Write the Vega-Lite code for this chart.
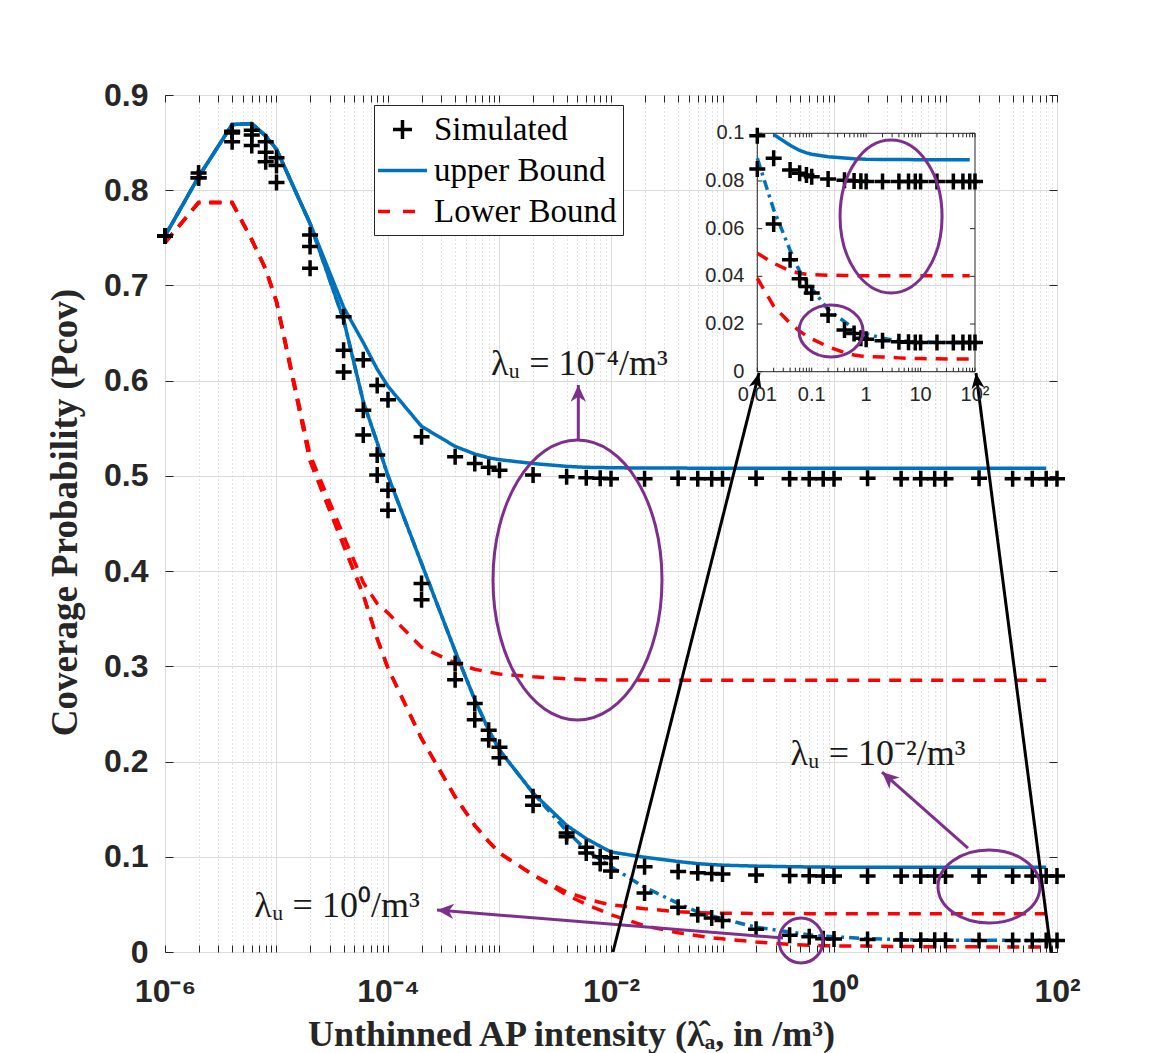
{
  "$schema": "https://vega.github.io/schema/vega-lite/v6.json",
  "width": 892,
  "height": 857,
  "autosize": {"type": "none"},
  "padding": {"left": 165, "top": 95, "right": 96, "bottom": 101},
  "background": "white",
  "config": {
    "view": {"stroke": "#262626", "strokeWidth": 1},
    "axis": {"tickColor": "#262626", "labelColor": "#262626", "titleColor": "#262626"}
  },
  "datasets": {
    "curves": [
      {"lam": "1e-4", "x": 1e-6, "sim": 0.752, "up": 0.752, "lo": 0.745},
      {"lam": "1e-4", "x": 2e-6, "sim": 0.818, "up": 0.814, "lo": 0.787},
      {"lam": "1e-4", "x": 4e-6, "sim": 0.862, "up": 0.869, "lo": 0.787},
      {"lam": "1e-4", "x": 6e-6, "sim": 0.863, "up": 0.870, "lo": 0.748},
      {"lam": "1e-4", "x": 8e-6, "sim": 0.851, "up": 0.857, "lo": 0.717},
      {"lam": "1e-4", "x": 1e-5, "sim": 0.834, "up": 0.843, "lo": 0.683},
      {"lam": "1e-4", "x": 2e-5, "sim": 0.753, "up": 0.765, "lo": 0.522},
      {"lam": "1e-4", "x": 4e-5, "sim": 0.667, "up": 0.677, "lo": 0.437},
      {"lam": "1e-4", "x": 6e-5, "sim": 0.622, "up": 0.640, "lo": 0.388},
      {"lam": "1e-4", "x": 8e-5, "sim": 0.595, "up": 0.612, "lo": 0.366},
      {"lam": "1e-4", "x": 1e-4, "sim": 0.580, "up": 0.594, "lo": 0.356},
      {"lam": "1e-4", "x": 2e-4, "sim": 0.541, "up": 0.552, "lo": 0.320},
      {"lam": "1e-4", "x": 4e-4, "sim": 0.520, "up": 0.531, "lo": 0.3035},
      {"lam": "1e-4", "x": 6e-4, "sim": 0.513, "up": 0.523, "lo": 0.297},
      {"lam": "1e-4", "x": 8e-4, "sim": 0.509, "up": 0.519, "lo": 0.294},
      {"lam": "1e-4", "x": 0.001, "sim": 0.506, "up": 0.517, "lo": 0.292},
      {"lam": "1e-4", "x": 0.002, "sim": 0.501, "up": 0.513, "lo": 0.289},
      {"lam": "1e-4", "x": 0.004, "sim": 0.499, "up": 0.510, "lo": 0.287},
      {"lam": "1e-4", "x": 0.006, "sim": 0.498, "up": 0.509, "lo": 0.286},
      {"lam": "1e-4", "x": 0.008, "sim": 0.4975, "up": 0.5088, "lo": 0.2858},
      {"lam": "1e-4", "x": 0.01, "sim": 0.497, "up": 0.5085, "lo": 0.2856},
      {"lam": "1e-4", "x": 0.02, "sim": 0.497, "up": 0.5083, "lo": 0.2855},
      {"lam": "1e-4", "x": 0.04, "sim": 0.4975, "up": 0.5082, "lo": 0.2855},
      {"lam": "1e-4", "x": 0.06, "sim": 0.497, "up": 0.5081, "lo": 0.2855},
      {"lam": "1e-4", "x": 0.08, "sim": 0.497, "up": 0.5081, "lo": 0.2855},
      {"lam": "1e-4", "x": 0.1, "sim": 0.497, "up": 0.508, "lo": 0.2855},
      {"lam": "1e-4", "x": 0.2, "sim": 0.4975, "up": 0.508, "lo": 0.2855},
      {"lam": "1e-4", "x": 0.4, "sim": 0.497, "up": 0.508, "lo": 0.2855},
      {"lam": "1e-4", "x": 0.6, "sim": 0.497, "up": 0.508, "lo": 0.2855},
      {"lam": "1e-4", "x": 0.8, "sim": 0.497, "up": 0.508, "lo": 0.2855},
      {"lam": "1e-4", "x": 1, "sim": 0.497, "up": 0.508, "lo": 0.2855},
      {"lam": "1e-4", "x": 2, "sim": 0.4975, "up": 0.508, "lo": 0.2855},
      {"lam": "1e-4", "x": 4, "sim": 0.497, "up": 0.508, "lo": 0.2855},
      {"lam": "1e-4", "x": 6, "sim": 0.497, "up": 0.508, "lo": 0.2855},
      {"lam": "1e-4", "x": 8, "sim": 0.497, "up": 0.508, "lo": 0.2855},
      {"lam": "1e-4", "x": 10, "sim": 0.497, "up": 0.508, "lo": 0.2855},
      {"lam": "1e-4", "x": 20, "sim": 0.4975, "up": 0.508, "lo": 0.2855},
      {"lam": "1e-4", "x": 40, "sim": 0.497, "up": 0.508, "lo": 0.2855},
      {"lam": "1e-4", "x": 60, "sim": 0.497, "up": 0.508, "lo": 0.2855},
      {"lam": "1e-4", "x": 80, "sim": 0.497, "up": 0.508, "lo": 0.2855},
      {"lam": "1e-4", "x": 100, "sim": 0.497, "up": null, "lo": null},

      {"lam": "1e-2", "x": 1e-6, "sim": 0.752, "up": 0.752, "lo": 0.745},
      {"lam": "1e-2", "x": 2e-6, "sim": 0.813, "up": 0.814, "lo": 0.787},
      {"lam": "1e-2", "x": 4e-6, "sim": 0.860, "up": 0.869, "lo": 0.787},
      {"lam": "1e-2", "x": 6e-6, "sim": 0.858, "up": 0.870, "lo": 0.748},
      {"lam": "1e-2", "x": 8e-6, "sim": 0.840, "up": 0.857, "lo": 0.717},
      {"lam": "1e-2", "x": 1e-5, "sim": 0.826, "up": 0.843, "lo": 0.683},
      {"lam": "1e-2", "x": 2e-5, "sim": 0.741, "up": 0.765, "lo": 0.516},
      {"lam": "1e-2", "x": 4e-5, "sim": 0.632, "up": 0.664, "lo": 0.427},
      {"lam": "1e-2", "x": 6e-5, "sim": 0.569, "up": 0.578, "lo": 0.375},
      {"lam": "1e-2", "x": 8e-5, "sim": 0.522, "up": 0.535, "lo": 0.329},
      {"lam": "1e-2", "x": 1e-4, "sim": 0.485, "up": 0.500, "lo": 0.298},
      {"lam": "1e-2", "x": 2e-4, "sim": 0.387, "up": 0.408, "lo": 0.224},
      {"lam": "1e-2", "x": 4e-4, "sim": 0.303, "up": 0.316, "lo": 0.163},
      {"lam": "1e-2", "x": 6e-4, "sim": 0.261, "up": 0.265, "lo": 0.133},
      {"lam": "1e-2", "x": 8e-4, "sim": 0.233, "up": 0.233, "lo": 0.116},
      {"lam": "1e-2", "x": 0.001, "sim": 0.215, "up": 0.212, "lo": 0.104},
      {"lam": "1e-2", "x": 0.002, "sim": 0.163, "up": 0.167, "lo": 0.081},
      {"lam": "1e-2", "x": 0.004, "sim": 0.125, "up": 0.133, "lo": 0.063},
      {"lam": "1e-2", "x": 0.006, "sim": 0.110, "up": 0.119, "lo": 0.056},
      {"lam": "1e-2", "x": 0.008, "sim": 0.100, "up": 0.111, "lo": 0.052},
      {"lam": "1e-2", "x": 0.01, "sim": 0.099, "up": 0.105, "lo": 0.0497},
      {"lam": "1e-2", "x": 0.02, "sim": 0.0895, "up": 0.0995, "lo": 0.0455},
      {"lam": "1e-2", "x": 0.04, "sim": 0.0846, "up": 0.0950, "lo": 0.0423},
      {"lam": "1e-2", "x": 0.06, "sim": 0.0832, "up": 0.0928, "lo": 0.0413},
      {"lam": "1e-2", "x": 0.08, "sim": 0.0825, "up": 0.0918, "lo": 0.0409},
      {"lam": "1e-2", "x": 0.1, "sim": 0.0818, "up": 0.0912, "lo": 0.0407},
      {"lam": "1e-2", "x": 0.2, "sim": 0.0808, "up": 0.0902, "lo": 0.0405},
      {"lam": "1e-2", "x": 0.4, "sim": 0.0803, "up": 0.0896, "lo": 0.0404},
      {"lam": "1e-2", "x": 0.6, "sim": 0.0800, "up": 0.0893, "lo": 0.0403},
      {"lam": "1e-2", "x": 0.8, "sim": 0.0799, "up": 0.0892, "lo": 0.0403},
      {"lam": "1e-2", "x": 1, "sim": 0.0798, "up": 0.0891, "lo": 0.0403},
      {"lam": "1e-2", "x": 2, "sim": 0.0798, "up": 0.0890, "lo": 0.0403},
      {"lam": "1e-2", "x": 4, "sim": 0.0798, "up": 0.0890, "lo": 0.0403},
      {"lam": "1e-2", "x": 6, "sim": 0.0798, "up": 0.0890, "lo": 0.0403},
      {"lam": "1e-2", "x": 8, "sim": 0.0798, "up": 0.0889, "lo": 0.0403},
      {"lam": "1e-2", "x": 10, "sim": 0.0798, "up": 0.0889, "lo": 0.0403},
      {"lam": "1e-2", "x": 20, "sim": 0.0798, "up": 0.0889, "lo": 0.0403},
      {"lam": "1e-2", "x": 40, "sim": 0.0798, "up": 0.0889, "lo": 0.0403},
      {"lam": "1e-2", "x": 60, "sim": 0.0798, "up": 0.0889, "lo": 0.0403},
      {"lam": "1e-2", "x": 80, "sim": 0.0798, "up": 0.0889, "lo": 0.0403},
      {"lam": "1e-2", "x": 100, "sim": 0.0798, "up": null, "lo": null},

      {"lam": "1e0", "x": 1e-6, "sim": 0.752, "up": 0.752, "lo": 0.745},
      {"lam": "1e0", "x": 2e-6, "sim": 0.813, "up": 0.814, "lo": 0.787},
      {"lam": "1e0", "x": 4e-6, "sim": 0.851, "up": 0.869, "lo": 0.787},
      {"lam": "1e0", "x": 6e-6, "sim": 0.847, "up": 0.870, "lo": 0.748},
      {"lam": "1e0", "x": 8e-6, "sim": 0.830, "up": 0.857, "lo": 0.717},
      {"lam": "1e0", "x": 1e-5, "sim": 0.808, "up": 0.843, "lo": 0.683},
      {"lam": "1e0", "x": 2e-5, "sim": 0.718, "up": 0.765, "lo": 0.516},
      {"lam": "1e0", "x": 4e-5, "sim": 0.609, "up": 0.664, "lo": 0.427},
      {"lam": "1e0", "x": 6e-5, "sim": 0.543, "up": 0.578, "lo": 0.375},
      {"lam": "1e0", "x": 8e-5, "sim": 0.501, "up": 0.535, "lo": 0.329},
      {"lam": "1e0", "x": 1e-4, "sim": 0.464, "up": 0.500, "lo": 0.298},
      {"lam": "1e0", "x": 2e-4, "sim": 0.370, "up": 0.408, "lo": 0.224},
      {"lam": "1e0", "x": 4e-4, "sim": 0.286, "up": 0.316, "lo": 0.163},
      {"lam": "1e0", "x": 6e-4, "sim": 0.244, "up": 0.265, "lo": 0.133},
      {"lam": "1e0", "x": 8e-4, "sim": 0.223, "up": 0.233, "lo": 0.116},
      {"lam": "1e0", "x": 0.001, "sim": 0.204, "up": 0.212, "lo": 0.104},
      {"lam": "1e0", "x": 0.002, "sim": 0.154, "up": 0.167, "lo": 0.081},
      {"lam": "1e0", "x": 0.004, "sim": 0.121, "up": 0.127, "lo": 0.060},
      {"lam": "1e0", "x": 0.006, "sim": 0.104, "up": 0.107, "lo": 0.050},
      {"lam": "1e0", "x": 0.008, "sim": 0.093, "up": 0.097, "lo": 0.044},
      {"lam": "1e0", "x": 0.01, "sim": 0.085, "up": 0.0895, "lo": 0.0392},
      {"lam": "1e0", "x": 0.02, "sim": 0.062, "up": 0.068, "lo": 0.0275},
      {"lam": "1e0", "x": 0.04, "sim": 0.047, "up": 0.051, "lo": 0.0203},
      {"lam": "1e0", "x": 0.06, "sim": 0.039, "up": 0.042, "lo": 0.017},
      {"lam": "1e0", "x": 0.08, "sim": 0.0357, "up": 0.038, "lo": 0.015},
      {"lam": "1e0", "x": 0.1, "sim": 0.033, "up": 0.035, "lo": 0.0138},
      {"lam": "1e0", "x": 0.2, "sim": 0.0238, "up": 0.026, "lo": 0.0105},
      {"lam": "1e0", "x": 0.4, "sim": 0.0175, "up": 0.021, "lo": 0.0080},
      {"lam": "1e0", "x": 0.6, "sim": 0.016, "up": 0.018, "lo": 0.0070},
      {"lam": "1e0", "x": 0.8, "sim": 0.014, "up": 0.0167, "lo": 0.0066},
      {"lam": "1e0", "x": 1, "sim": 0.0136, "up": 0.016, "lo": 0.0064},
      {"lam": "1e0", "x": 2, "sim": 0.013, "up": 0.014, "lo": 0.0062},
      {"lam": "1e0", "x": 4, "sim": 0.0126, "up": 0.013, "lo": 0.0058},
      {"lam": "1e0", "x": 6, "sim": 0.0124, "up": 0.0127, "lo": 0.0056},
      {"lam": "1e0", "x": 8, "sim": 0.0123, "up": 0.0126, "lo": 0.0055},
      {"lam": "1e0", "x": 10, "sim": 0.0123, "up": 0.0125, "lo": 0.0055},
      {"lam": "1e0", "x": 20, "sim": 0.0122, "up": 0.0123, "lo": 0.0054},
      {"lam": "1e0", "x": 40, "sim": 0.0122, "up": 0.0122, "lo": 0.0053},
      {"lam": "1e0", "x": 60, "sim": 0.0122, "up": 0.0122, "lo": 0.0053},
      {"lam": "1e0", "x": 80, "sim": 0.0122, "up": 0.0122, "lo": 0.0053},
      {"lam": "1e0", "x": 100, "sim": 0.0122, "up": null, "lo": null}
    ],
    "rings": [
      {"ring": "big", "x": 0.005006, "y": 0.3907},
      {"ring": "right", "x": 24.55, "y": 0.0688},
      {"ring": "small", "x": 0.506, "y": 0.0121}
    ],
    "insetRings": [
      {"ring": "tall", "x": 2.869, "y": 0.06513},
      {"ring": "low", "x": 0.2263, "y": 0.01708}
    ],
    "insetFrame": [
      {"x0": 0.01, "x1": 100, "y0": 0, "y1": 0.1}
    ],
    "insetXTicks": [
      {"v": 0.01, "label": "0.01"}, {"v": 0.02, "label": ""}, {"v": 0.03, "label": ""}, {"v": 0.04, "label": ""}, {"v": 0.05, "label": ""}, {"v": 0.06, "label": ""}, {"v": 0.07, "label": ""}, {"v": 0.08, "label": ""}, {"v": 0.09, "label": ""},
      {"v": 0.1, "label": "0.1"}, {"v": 0.2, "label": ""}, {"v": 0.3, "label": ""}, {"v": 0.4, "label": ""}, {"v": 0.5, "label": ""}, {"v": 0.6, "label": ""}, {"v": 0.7, "label": ""}, {"v": 0.8, "label": ""}, {"v": 0.9, "label": ""},
      {"v": 1, "label": "1"}, {"v": 2, "label": ""}, {"v": 3, "label": ""}, {"v": 4, "label": ""}, {"v": 5, "label": ""}, {"v": 6, "label": ""}, {"v": 7, "label": ""}, {"v": 8, "label": ""}, {"v": 9, "label": ""},
      {"v": 10, "label": "10"}, {"v": 20, "label": ""}, {"v": 30, "label": ""}, {"v": 40, "label": ""}, {"v": 50, "label": ""}, {"v": 60, "label": ""}, {"v": 70, "label": ""}, {"v": 80, "label": ""}, {"v": 90, "label": ""},
      {"v": 100, "label": "10²"}
    ],
    "insetYTicks": [
      {"v": 0, "label": "0"}, {"v": 0.02, "label": "0.02"}, {"v": 0.04, "label": "0.04"}, {"v": 0.06, "label": "0.06"}, {"v": 0.08, "label": "0.08"}, {"v": 0.1, "label": "0.1"}
    ],
    "arrows": [
      {"arrow": "up", "x": 0.00509, "y": 0.5377, "x2": 0.00509, "y2": 0.5955},
      {"arrow": "right", "x": 15.91, "y": 0.1092, "x2": 2.696, "y2": 0.189},
      {"arrow": "left", "x": 0.3488, "y": 0.0147, "x2": 0.0002751, "y2": 0.0441},
      {"arrow": "zoomL", "x": 0.01042, "y": 0, "x2": 0.2126, "y2": 0.6081},
      {"arrow": "zoomR", "x": 88.35, "y": 0, "x2": 18.77, "y2": 0.6081}
    ],
    "notes": [
      {"x": 0.0052, "y": 0.606, "label": "λᵤ = 10⁻⁴/m³"},
      {"x": 2.48, "y": 0.1964, "label": "λᵤ = 10⁻²/m³"},
      {"x": 0.0000349, "y": 0.0368, "label": "λᵤ = 10⁰/m³"}
    ]
  },
  "layer": [
    {
      "layer": [
        {
          "data": {"name": "curves"},
          "transform": [{"filter": "datum.up != null"}],
          "mark": {"type": "line", "strokeWidth": 3.5},
          "encoding": {
            "x": {
              "field": "x", "type": "quantitative",
              "scale": {"type": "log", "domain": [1e-6, 100], "nice": false},
              "axis": {
                "orient": "bottom",
                "values": [1e-6,2e-6,3e-6,4e-6,5e-6,6e-6,7e-6,8e-6,9e-6,1e-5,2e-5,3e-5,4e-5,5e-5,6e-5,7e-5,8e-5,9e-5,1e-4,2e-4,3e-4,4e-4,5e-4,6e-4,7e-4,8e-4,9e-4,0.001,0.002,0.003,0.004,0.005,0.006,0.007,0.008,0.009,0.01,0.02,0.03,0.04,0.05,0.06,0.07,0.08,0.09,0.1,0.2,0.3,0.4,0.5,0.6,0.7,0.8,0.9,1,2,3,4,5,6,7,8,9,10,20,30,40,50,60,70,80,90,100],
                "labelExpr": "datum.value === 1e-6 ? '10⁻⁶' : datum.value === 1e-4 ? '10⁻⁴' : datum.value === 0.01 ? '10⁻²' : datum.value === 1 ? '10⁰' : datum.value === 100 ? '10²' : ''",
                "labelFlush": false,
                "labelFont": "Liberation Sans", "labelFontWeight": "bold", "labelFontSize": 32,
                "labelPadding": 31,
                "tickSize": -7, "tickWidth": 1,
                "domain": false,
                "grid": true,
                "gridColor": {"condition": {"test": "abs(log(datum.value)/LN10 - round(log(datum.value)/LN10)) < 0.001", "value": "#dcdcdc"}, "value": "#c4c4c4"},
                "gridDash": {"condition": {"test": "abs(log(datum.value)/LN10 - round(log(datum.value)/LN10)) < 0.001", "value": []}, "value": [1, 3]},
                "title": "Unthinned AP intensity (λ̂ₐ, in /m³)",
                "titleFont": "Liberation Serif", "titleFontWeight": "bold", "titleFontSize": 36,
                "titleX": 406, "titleY": 82, "titleBaseline": "middle", "titleAlign": "center"
              }
            },
            "y": {
              "field": "up", "type": "quantitative",
              "scale": {"domain": [0, 0.9], "nice": false, "zero": false},
              "axis": {
                "orient": "left",
                "values": [0, 0.1, 0.2, 0.3, 0.4, 0.5, 0.6, 0.7, 0.8, 0.9],
                "format": "~g",
                "labelFlush": false,
                "labelFont": "Liberation Sans", "labelFontWeight": "bold", "labelFontSize": 32,
                "labelPadding": 25,
                "tickSize": -8, "tickWidth": 1,
                "domain": false,
                "grid": true, "gridColor": "#dcdcdc",
                "title": "Coverage Probability (Pcov)",
                "titleFont": "Liberation Serif", "titleFontWeight": "bold", "titleFontSize": 37,
                "titleX": -100, "titleY": 417, "titleBaseline": "middle", "titleAlign": "center", "titleAngle": 270
              }
            },
            "detail": {"field": "lam"},
            "strokeDash": {
              "field": "lam", "type": "nominal",
              "scale": {"domain": ["1e-4", "1e-2", "1e0"], "range": [[1, 0], [1, 0], [10, 5, 3, 5]]},
              "legend": null
            },
            "color": {
              "datum": "upper Bound", "type": "nominal",
              "scale": {"domain": ["Simulated", "upper Bound", "Lower Bound"], "range": ["black", "#0072BD", "#FF0000"]},
              "legend": {
                "title": null,
                "orient": "none", "legendX": 209, "legendY": 10, "direction": "vertical",
                "fillColor": "white", "strokeColor": "#262626", "padding": 6,
                "labelFont": "Liberation Serif", "labelFontSize": 33, "labelColor": "black", "labelLimit": 400,
                "labelOffset": 17, "rowPadding": 5,
                "symbolSize": 1089, "symbolStrokeWidth": 3.5,
                "encode": {
                  "symbols": {
                    "update": {
                      "shape": [
                        {"test": "datum.value === 'Simulated'", "value": "M-0.333,0L0.818,0M0.242,-0.576L0.242,0.576"},
                        {"value": "M-1.242,0L1.727,0"}
                      ],
                      "strokeDash": [
                        {"test": "datum.value === 'Lower Bound'", "value": [12, 13]},
                        {"value": [1, 0]}
                      ],
                      "stroke": {"scale": "color", "field": "value"},
                      "fill": {"value": "transparent"},
                      "strokeWidth": {"value": 3.5},
                      "size": {"value": 1089},
                      "opacity": {"value": 1}
                    }
                  }
                }
              }
            }
          }
        },
        {
          "data": {"name": "curves"},
          "transform": [{"filter": "datum.lo != null"}],
          "mark": {"type": "line", "strokeWidth": 3.5, "strokeDash": [12, 9]},
          "encoding": {
            "x": {
              "field": "x", "type": "quantitative",
              "axis": {
                "orient": "top",
                "values": [1e-6,2e-6,3e-6,4e-6,5e-6,6e-6,7e-6,8e-6,9e-6,1e-5,2e-5,3e-5,4e-5,5e-5,6e-5,7e-5,8e-5,9e-5,1e-4,2e-4,3e-4,4e-4,5e-4,6e-4,7e-4,8e-4,9e-4,0.001,0.002,0.003,0.004,0.005,0.006,0.007,0.008,0.009,0.01,0.02,0.03,0.04,0.05,0.06,0.07,0.08,0.09,0.1,0.2,0.3,0.4,0.5,0.6,0.7,0.8,0.9,1,2,3,4,5,6,7,8,9,10,20,30,40,50,60,70,80,90,100],
                "labels": false, "grid": false, "domain": false, "tickSize": -7, "title": null
              }
            },
            "y": {
              "field": "lo", "type": "quantitative",
              "axis": {
                "orient": "right",
                "values": [0, 0.1, 0.2, 0.3, 0.4, 0.5, 0.6, 0.7, 0.8, 0.9],
                "labels": false, "grid": false, "domain": false, "tickSize": -8, "title": null
              }
            },
            "detail": {"field": "lam"},
            "color": {"datum": "Lower Bound", "type": "nominal"}
          }
        },
        {
          "data": {"name": "curves"},
          "mark": {"type": "point", "shape": "M-1,0L1,0M0,-1L0,1", "size": 256, "filled": false, "strokeWidth": 3.5, "opacity": 1},
          "encoding": {
            "x": {"field": "x", "type": "quantitative", "axis": null},
            "y": {"field": "sim", "type": "quantitative", "axis": null},
            "color": {"datum": "Simulated", "type": "nominal"}
          }
        },
        {
          "data": {"name": "rings"},
          "transform": [{"filter": "datum.ring === 'big'"}],
          "mark": {"type": "point", "shape": "M-0.6036,0A0.6036,1,0,1,0,0.6036,0A0.6036,1,0,1,0,-0.6036,0Z", "size": 78400, "filled": false, "stroke": "#7E2F8E", "strokeWidth": 3, "opacity": 1},
          "encoding": {
            "x": {"field": "x", "type": "quantitative", "axis": null},
            "y": {"field": "y", "type": "quantitative", "axis": null}
          }
        },
        {
          "data": {"name": "rings"},
          "transform": [{"filter": "datum.ring === 'right'"}],
          "mark": {"type": "point", "shape": "M-1,0A1,0.7157,0,1,0,1,0A1,0.7157,0,1,0,-1,0Z", "size": 10404, "filled": false, "stroke": "#7E2F8E", "strokeWidth": 3, "opacity": 1},
          "encoding": {
            "x": {"field": "x", "type": "quantitative", "axis": null},
            "y": {"field": "y", "type": "quantitative", "axis": null}
          }
        },
        {
          "data": {"name": "rings"},
          "transform": [{"filter": "datum.ring === 'small'"}],
          "mark": {"type": "point", "shape": "M-0.978,0A0.978,1,0,1,0,0.978,0A0.978,1,0,1,0,-0.978,0Z", "size": 2025, "filled": false, "stroke": "#7E2F8E", "strokeWidth": 3, "opacity": 1},
          "encoding": {
            "x": {"field": "x", "type": "quantitative", "axis": null},
            "y": {"field": "y", "type": "quantitative", "axis": null}
          }
        },
        {
          "data": {"name": "arrows"},
          "transform": [{"filter": "datum.arrow === 'up' || datum.arrow === 'right' || datum.arrow === 'left'"}],
          "mark": {"type": "rule", "stroke": "#7E2F8E", "strokeWidth": 3},
          "encoding": {
            "x": {"field": "x", "type": "quantitative", "axis": null},
            "y": {"field": "y", "type": "quantitative", "axis": null},
            "x2": {"field": "x2"},
            "y2": {"field": "y2"}
          }
        },
        {
          "data": {"name": "arrows"},
          "transform": [{"filter": "datum.arrow === 'zoomL' || datum.arrow === 'zoomR'"}],
          "mark": {"type": "rule", "stroke": "black", "strokeWidth": 3},
          "encoding": {
            "x": {"field": "x", "type": "quantitative", "axis": null},
            "y": {"field": "y", "type": "quantitative", "axis": null},
            "x2": {"field": "x2"},
            "y2": {"field": "y2"}
          }
        },
        {
          "data": {"name": "arrows"},
          "transform": [{"filter": "datum.arrow === 'up'"}],
          "mark": {"type": "point", "shape": "M0,0L0.55,1.2L0,0.85L-0.55,1.2Z", "size": 784, "filled": true, "fill": "#7E2F8E", "strokeWidth": 0, "opacity": 1, "angle": 0},
          "encoding": {
            "x": {"field": "x2", "type": "quantitative", "axis": null},
            "y": {"field": "y2", "type": "quantitative", "axis": null}
          }
        },
        {
          "data": {"name": "arrows"},
          "transform": [{"filter": "datum.arrow === 'right'"}],
          "mark": {"type": "point", "shape": "M0,0L0.55,1.2L0,0.85L-0.55,1.2Z", "size": 784, "filled": true, "fill": "#7E2F8E", "strokeWidth": 0, "opacity": 1, "angle": 311.5},
          "encoding": {
            "x": {"field": "x2", "type": "quantitative", "axis": null},
            "y": {"field": "y2", "type": "quantitative", "axis": null}
          }
        },
        {
          "data": {"name": "arrows"},
          "transform": [{"filter": "datum.arrow === 'left'"}],
          "mark": {"type": "point", "shape": "M0,0L0.55,1.2L0,0.85L-0.55,1.2Z", "size": 784, "filled": true, "fill": "#7E2F8E", "strokeWidth": 0, "opacity": 1, "angle": 274.6},
          "encoding": {
            "x": {"field": "x2", "type": "quantitative", "axis": null},
            "y": {"field": "y2", "type": "quantitative", "axis": null}
          }
        },
        {
          "data": {"name": "arrows"},
          "transform": [{"filter": "datum.arrow === 'zoomL'"}],
          "mark": {"type": "point", "shape": "M0,0L0.5,1.2L0,0.85L-0.5,1.2Z", "size": 676, "filled": true, "fill": "black", "strokeWidth": 0, "opacity": 1, "angle": 14.15},
          "encoding": {
            "x": {"field": "x2", "type": "quantitative", "axis": null},
            "y": {"field": "y2", "type": "quantitative", "axis": null}
          }
        },
        {
          "data": {"name": "arrows"},
          "transform": [{"filter": "datum.arrow === 'zoomR'"}],
          "mark": {"type": "point", "shape": "M0,0L0.5,1.2L0,0.85L-0.5,1.2Z", "size": 676, "filled": true, "fill": "black", "strokeWidth": 0, "opacity": 1, "angle": 352.6},
          "encoding": {
            "x": {"field": "x2", "type": "quantitative", "axis": null},
            "y": {"field": "y2", "type": "quantitative", "axis": null}
          }
        },
        {
          "data": {"name": "notes"},
          "mark": {"type": "text", "font": "Liberation Serif", "fontSize": 36, "align": "center", "baseline": "alphabetic", "color": "#1a1a1a"},
          "encoding": {
            "x": {"field": "x", "type": "quantitative", "axis": null},
            "y": {"field": "y", "type": "quantitative", "axis": null},
            "text": {"field": "label"}
          }
        }
      ],
      "resolve": {"axis": {"x": "independent", "y": "independent"}}
    },
    {
      "layer": [
        {
          "data": {"name": "insetFrame"},
          "mark": {"type": "rect", "fillOpacity": 0, "stroke": "#262626", "strokeWidth": 1},
          "encoding": {
            "x": {
              "field": "x0", "type": "quantitative",
              "scale": {"type": "log", "domain": [0.01, 100], "range": [592.3, 810], "nice": false},
              "axis": null
            },
            "x2": {"field": "x1"},
            "y": {
              "field": "y0", "type": "quantitative",
              "scale": {"domain": [0, 0.1], "range": [276.7, 38.3], "nice": false, "zero": false},
              "axis": null
            },
            "y2": {"field": "y1"}
          }
        },
        {
          "data": {"name": "insetXTicks"},
          "mark": {"type": "point", "shape": "M0,0L0,-1", "size": 64, "filled": false, "stroke": "#262626", "strokeWidth": 1, "opacity": 1},
          "encoding": {
            "x": {"field": "v", "type": "quantitative", "axis": null},
            "y": {"datum": 0, "type": "quantitative", "axis": null}
          }
        },
        {
          "data": {"name": "insetXTicks"},
          "mark": {"type": "point", "shape": "M0,0L0,1", "size": 64, "filled": false, "stroke": "#262626", "strokeWidth": 1, "opacity": 1},
          "encoding": {
            "x": {"field": "v", "type": "quantitative", "axis": null},
            "y": {"datum": 0.1, "type": "quantitative", "axis": null}
          }
        },
        {
          "data": {"name": "insetXTicks"},
          "mark": {"type": "text", "font": "Liberation Sans", "fontSize": 20, "align": "center", "baseline": "middle", "dy": 23, "color": "#262626"},
          "encoding": {
            "x": {"field": "v", "type": "quantitative", "axis": null},
            "y": {"datum": 0, "type": "quantitative", "axis": null},
            "text": {"field": "label"}
          }
        },
        {
          "data": {"name": "insetYTicks"},
          "mark": {"type": "point", "shape": "M0,0L1,0", "size": 100, "filled": false, "stroke": "#262626", "strokeWidth": 1, "opacity": 1},
          "encoding": {
            "x": {"datum": 0.01, "type": "quantitative", "axis": null},
            "y": {"field": "v", "type": "quantitative", "axis": null}
          }
        },
        {
          "data": {"name": "insetYTicks"},
          "mark": {"type": "point", "shape": "M0,0L-1,0", "size": 100, "filled": false, "stroke": "#262626", "strokeWidth": 1, "opacity": 1},
          "encoding": {
            "x": {"datum": 100, "type": "quantitative", "axis": null},
            "y": {"field": "v", "type": "quantitative", "axis": null}
          }
        },
        {
          "data": {"name": "insetYTicks"},
          "mark": {"type": "text", "font": "Liberation Sans", "fontSize": 20, "align": "right", "baseline": "middle", "dx": -13, "color": "#262626"},
          "encoding": {
            "x": {"datum": 0.01, "type": "quantitative", "axis": null},
            "y": {"field": "v", "type": "quantitative", "axis": null},
            "text": {"field": "label"}
          }
        },
        {
          "data": {"name": "curves"},
          "transform": [{"filter": "datum.lam === '1e-2' && datum.x >= 0.02 && datum.up != null"}],
          "mark": {"type": "line", "strokeWidth": 3.5, "color": "#0072BD"},
          "encoding": {
            "x": {"field": "x", "type": "quantitative", "axis": null},
            "y": {"field": "up", "type": "quantitative", "axis": null}
          }
        },
        {
          "data": {"name": "curves"},
          "transform": [{"filter": "datum.x >= 0.01 && datum.lo != null && datum.lam !== '1e-4'"}],
          "mark": {"type": "line", "strokeWidth": 3.5, "color": "#FF0000", "strokeDash": [12, 9]},
          "encoding": {
            "x": {"field": "x", "type": "quantitative", "axis": null},
            "y": {"field": "lo", "type": "quantitative", "axis": null},
            "detail": {"field": "lam"}
          }
        },
        {
          "data": {"name": "curves"},
          "transform": [{"filter": "datum.lam === '1e0' && datum.x >= 0.01 && datum.up != null"}],
          "mark": {"type": "line", "strokeWidth": 3.5, "color": "#0072BD", "strokeDash": [10, 5, 3, 5]},
          "encoding": {
            "x": {"field": "x", "type": "quantitative", "axis": null},
            "y": {"field": "up", "type": "quantitative", "axis": null}
          }
        },
        {
          "data": {"name": "curves"},
          "transform": [{"filter": "datum.x >= 0.01 && datum.lam !== '1e-4'"}],
          "mark": {"type": "point", "shape": "M-1,0L1,0M0,-1L0,1", "size": 256, "filled": false, "strokeWidth": 3.5, "color": "black", "opacity": 1},
          "encoding": {
            "x": {"field": "x", "type": "quantitative", "axis": null},
            "y": {"field": "sim", "type": "quantitative", "axis": null}
          }
        },
        {
          "data": {"name": "insetRings"},
          "transform": [{"filter": "datum.ring === 'tall'"}],
          "mark": {"type": "point", "shape": "M-0.6667,0A0.6667,1,0,1,0,0.6667,0A0.6667,1,0,1,0,-0.6667,0Z", "size": 23409, "filled": false, "stroke": "#7E2F8E", "strokeWidth": 3, "opacity": 1},
          "encoding": {
            "x": {"field": "x", "type": "quantitative", "axis": null},
            "y": {"field": "y", "type": "quantitative", "axis": null}
          }
        },
        {
          "data": {"name": "insetRings"},
          "transform": [{"filter": "datum.ring === 'low'"}],
          "mark": {"type": "point", "shape": "M-1,0A1,0.8125,0,1,0,1,0A1,0.8125,0,1,0,-1,0Z", "size": 4096, "filled": false, "stroke": "#7E2F8E", "strokeWidth": 3, "opacity": 1},
          "encoding": {
            "x": {"field": "x", "type": "quantitative", "axis": null},
            "y": {"field": "y", "type": "quantitative", "axis": null}
          }
        }
      ]
    }
  ],
  "resolve": {"scale": {"x": "independent", "y": "independent"}}
}
